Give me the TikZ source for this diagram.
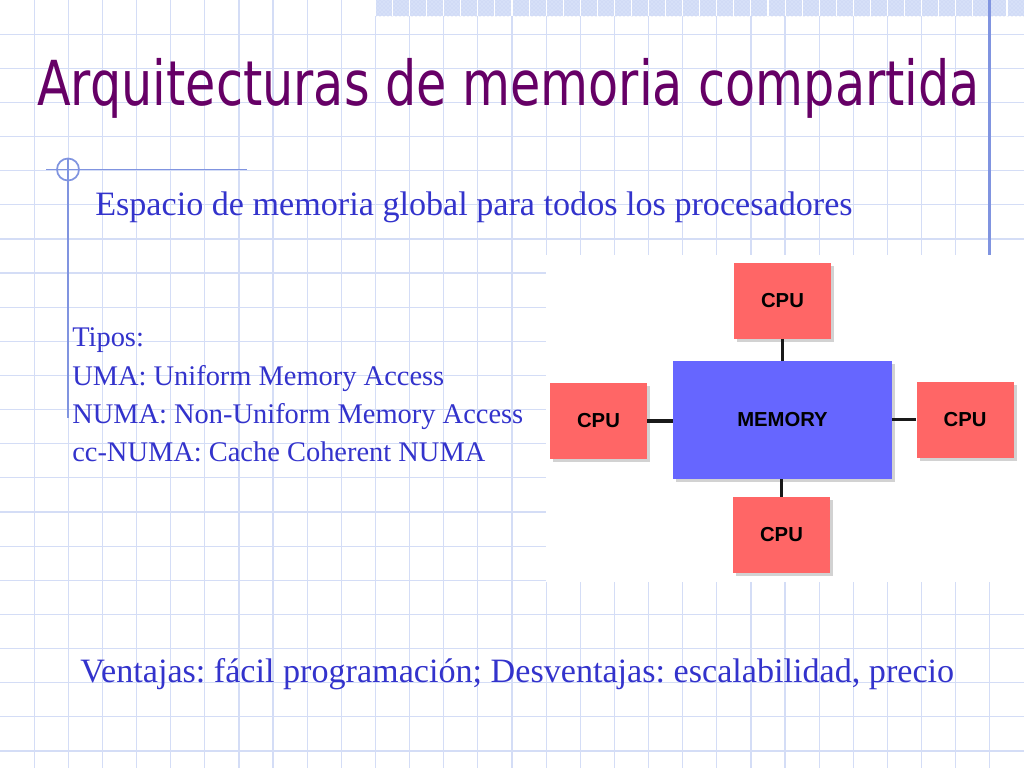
\documentclass[tikz,border=0pt]{standalone}
\usepackage{fontspec}
\setmainfont{Liberation Serif}
\setsansfont{Liberation Sans}
\newfontfamily\titulofont{DejaVu Sans}
\usetikzlibrary{shadows,patterns}
\definecolor{rejilla}{RGB}{212,221,246}
\definecolor{adorno}{RGB}{128,148,224}
\definecolor{banda}{RGB}{214,224,248}
\definecolor{titulo}{RGB}{102,0,102}
\definecolor{texto}{RGB}{51,51,204}
\definecolor{cpurojo}{RGB}{255,102,102}
\definecolor{memazul}{RGB}{102,102,255}
\frenchspacing

\begin{document}
\begin{tikzpicture}[x=0.75pt, y=-0.75pt,
	lineagrid/.style={draw=rejilla, line width=0.9pt},
	linea/.style={draw=adorno, line width=1.3pt},
	cpu/.style={fill=cpurojo, minimum width=72.75pt, minimum height=57pt, inner sep=0pt,
		font=\sffamily\bfseries\fontsize{15.2}{18}\selectfont,
		drop shadow={shadow xshift=2.5pt, shadow yshift=-2.5pt, opacity=0.35}},
	memoria/.style={cpu, fill=memazul, minimum width=164.25pt, minimum height=88.5pt},
	bus/.style={draw=black!90, line width=2.5pt},
	lista/.style={anchor=base west, inner sep=0pt, text=texto, font=\fontsize{21.33}{25}\selectfont}]
	\useasboundingbox (0, 0) rectangle (1024, 768);
	\fill[white] (0, 0) rectangle (1024, 768);
	% cuadricula
	\foreach \i in {1,...,29}
		\draw[lineagrid] ({\i*34.133}, 0) -- ({\i*34.133}, 768);
	\foreach \j in {1,...,22}
		\draw[lineagrid] (0, {\j*34.133}) -- (1024, {\j*34.133});
	% banda superior
	\fill[banda] (376, 0) rectangle (1024, 16);
	\fill[pattern=crosshatch dots, pattern color=rejilla!80!adorno] (376, 0) rectangle (1024, 16);
	\foreach \i in {22,...,60}
		\draw[white, line width=0.8pt] ({\i*17.067}, 0) -- ({\i*17.067}, 16);
	% adornos
	\draw[linea] (46, 169.5) -- (247, 169.5);
	\draw[linea] (68, 158) -- (68, 418);
	\draw[linea] (68, 169.5) circle [radius=11];
	\draw[linea, line width=1.6pt] (989.5, 0) -- (989.5, 255);
	% textos
	\node[anchor=base west, inner sep=0pt, text=titulo] (titulo) at (37, 105)
		{\resizebox{707pt}{\height}{\titulofont\fontsize{46.5}{50}\selectfont Arquitecturas de memoria compartida}};
	\node[anchor=base west, inner sep=0pt, text=texto, font=\fontsize{25.6}{30}\selectfont] (global) at (95, 215)
		{Espacio de memoria global para todos los procesadores};
	\foreach \t [count=\i] in {Tipos:, UMA: Uniform Memory Access, NUMA: Non-Uniform Memory Access, cc-NUMA: Cache Coherent NUMA}
		\node[lista] (tipo\i) at (72, {346.7+(\i-1)*38.4}) {\t};
	\node[anchor=base west, inner sep=0pt, text=texto, font=\fontsize{25.6}{30}\selectfont] (ventajas) at (80, 682.7)
		{Ventajas: fácil programación; Desventajas: escalabilidad, precio};
	% esquema
	\fill[white] (546, 255) rectangle (1024, 582);
	\node[memoria] (mem) at (782.5, 420) {MEMORY};
	\node[cpu] (cpuN) at (782.5, 300.5) {CPU};
	\node[cpu] (cpuS) at (781.5, 535) {CPU};
	\node[cpu] (cpuO) at (598.5, 421) {CPU};
	\node[cpu] (cpuE) at (965, 419.5) {CPU};
	\draw[bus] (cpuN.south) -- (cpuN.south |- mem.north);
	\draw[bus] (cpuS.north) -- (cpuS.north |- mem.south);
	\draw[bus] (cpuO.east) -- (cpuO.east -| mem.west);
	\draw[bus] (cpuE.west) -- (cpuE.west -| mem.east);
\end{tikzpicture}
\end{document}
